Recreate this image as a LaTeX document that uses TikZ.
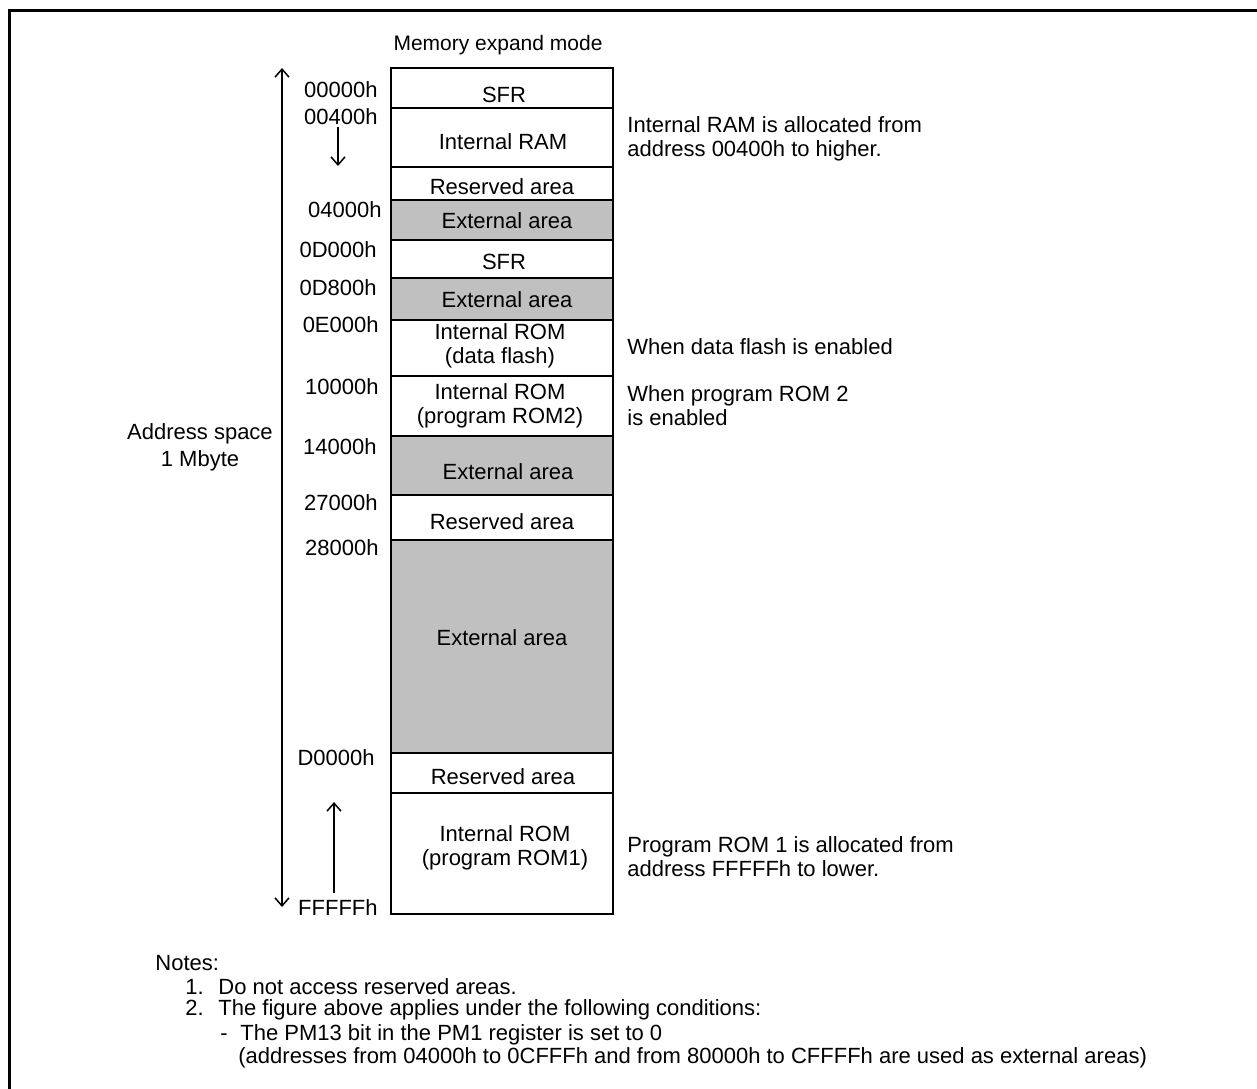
\documentclass[tikz,border=0pt]{standalone}
\usepackage{fontspec}
\setmainfont{Liberation Sans}
\usetikzlibrary{arrows.meta}
\definecolor{areagray}{RGB}{192,192,192}
\tikzset{
  cell/.style={draw, line width=1.25pt},
  extcell/.style={cell, fill=areagray},
  txt/.style={font=\fontsize{11}{12}\selectfont, inner sep=0pt, align=center},
  addr/.style={txt, anchor=east},
  remark/.style={txt, anchor=west, align=left},
  tip/.style={line width=0.75pt, {Straight Barb[length=4pt,width=7pt]}-{Straight Barb[length=4pt,width=7pt]}},
  uptip/.style={line width=0.75pt, -{Straight Barb[length=4pt,width=7pt]}}
}

\begin{document}
\begin{tikzpicture}[x=0.5pt, y=-0.5pt]
\useasboundingbox (0,0) rectangle (1257,1088);
% frame
\draw[line width=1.5pt] (9.5,1100) -- (9.5,10.5) -- (1270,10.5);

\node[txt, font=\fontsize{10.5}{12}\selectfont] (mode) at (498,45) {Memory expand mode};

% memory map
\draw[cell] (391,68) rectangle (613,108);
\draw[cell] (391,108) rectangle (613,167);
\draw[cell] (391,167) rectangle (613,200);
\draw[extcell] (391,200) rectangle (613,240);
\draw[cell] (391,240) rectangle (613,278);
\draw[extcell] (391,278) rectangle (613,320);
\draw[cell] (391,320) rectangle (613,376);
\draw[cell] (391,376) rectangle (613,436);
\draw[extcell] (391,436) rectangle (613,495);
\draw[cell] (391,495) rectangle (613,540);
\draw[extcell] (391,540) rectangle (613,753);
\draw[cell] (391,753) rectangle (613,793);
\draw[cell] (391,793) rectangle (613,914);

\node[txt] (sfra) at (504,95) {SFR};
\node[txt] (ram) at (503,142) {Internal RAM};
\node[txt] (resa) at (502,187) {Reserved area};
\node[txt] (exta) at (507,221) {External area};
\node[txt] (sfrb) at (504,262) {SFR};
\node[txt] (extb) at (507,300) {External area};
\node[txt] (flash) at (500,346) {Internal ROM\\(data flash)};
\node[txt] (romb) at (500,406) {Internal ROM\\(program ROM2)};
\node[txt] (extc) at (508,472) {External area};
\node[txt] (resb) at (502,522) {Reserved area};
\node[txt] (extd) at (502,638) {External area};
\node[txt] (resc) at (503,777) {Reserved area};
\node[txt] (roma) at (505,848) {Internal ROM\\(program ROM1)};

% addresses
\node[addr] (a00000) at (378,90) {00000h};
\node[addr] (a00400) at (378,117) {00400h};
\node[addr] (a04000) at (382,210) {04000h};
\node[addr] (a0D000) at (377,250) {0D000h};
\node[addr] (a0D800) at (377,288) {0D800h};
\node[addr] (a0E000) at (379,325) {0E000h};
\node[addr] (a10000) at (379,387) {10000h};
\node[addr] (a14000) at (377,447) {14000h};
\node[addr] (a27000) at (378,503) {27000h};
\node[addr] (a28000) at (379,548) {28000h};
\node[addr] (aD0000) at (375,758) {D0000h};
\node[addr] (aFFFFF) at (378,908) {FFFFFh};

% arrows
\coordinate (spacetop) at (282,68);
\coordinate (spacebot) at (282,907);
\draw[tip] (spacetop) -- (spacebot);
\coordinate (ramfrom) at (338,127);
\coordinate (ramto) at (338,166);
\draw[uptip] (ramfrom) -- (ramto);
\coordinate (romfrom) at (334,893);
\coordinate (romto) at (334,802);
\draw[uptip] (romfrom) -- (romto);

\node[txt, font=\fontsize{11}{13.5}\selectfont] (space) at (200,447) {Address space\\1 Mbyte};

% remarks
\node[remark] (ramnote) at (627,138.5) {Internal RAM is allocated from\\address 00400h to higher.};
\node[remark] (flashnote) at (627,347) {When data flash is enabled};
\node[remark] (rom2note) at (627,405.5) {When program ROM 2\\is enabled};
\node[remark] (rom1note) at (627,857) {Program ROM 1 is allocated from\\address FFFFFh to lower.};

% notes
\node[remark] (notes) at (155,963) {Notes:};
\node[remark] (note1) at (185,987) {\makebox[16.5pt][l]{1.}Do not access reserved areas.};
\node[remark] (note2) at (185,1010) {\makebox[16.5pt][l]{2.}The figure above applies under the following conditions:};
\node[remark] (note3) at (220,1035) {\makebox[10pt][l]{-}The PM13 bit in the PM1 register is set to 0};
\node[remark] (note4) at (238,1058) {(addresses from 04000h to 0CFFFh and from 80000h to CFFFFh are used as external areas)};
\end{tikzpicture}
\end{document}
